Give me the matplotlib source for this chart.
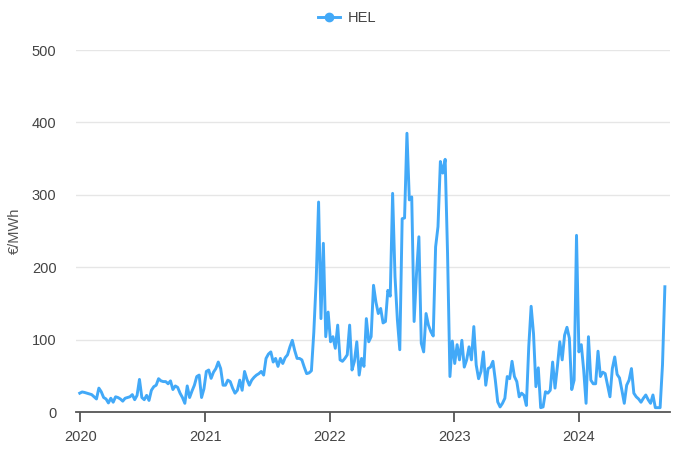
import matplotlib.pyplot as plt
import matplotlib.dates as mdates
import pandas as pd

plt.rcParams['font.family'] = ['Liberation Sans', 'DejaVu Sans']

# weekly prices (week starting 2019-12-30)
hel_2020 = [26, 27.7, 27, 26, 25, 24, 21, 18, 33, 28, 20, 18, 12.5, 19, 13.5,
            21, 20, 18, 15, 19, 20, 21, 24, 17, 23, 45, 20, 17, 23, 16, 30, 35,
            37, 46, 43, 42, 42, 39, 43, 31, 36, 34, 26, 20, 12, 36, 20, 29, 37,
            49, 51, 20, 32]
hel_2021 = [56, 58, 46.5, 55, 60, 69, 60, 37, 37, 44, 42, 33, 26, 30, 44, 30,
            56, 45, 37, 44, 48, 51, 53, 56, 51, 74, 80, 83, 69, 74, 63, 74, 67,
            75, 79, 90, 99, 85, 74, 74, 72, 62, 53, 54, 57, 110, 182, 290, 129,
            233, 104, 138]
hel_2022 = [97, 104, 88, 120, 72, 70, 74, 79, 120, 58, 70, 97, 51, 74, 63, 129,
            97, 104, 175, 152, 136, 143, 123, 125, 168, 160, 302, 187, 127, 86,
            267, 268, 385, 293, 297, 125, 191, 242, 95, 83, 136, 120, 111, 105,
            228, 256, 346, 330, 349, 219, 49, 98]
hel_2023 = [67, 93, 72, 99, 62, 72, 90, 72, 118, 65, 46, 56, 83, 37, 60, 62, 70,
            44, 14, 7, 12, 19, 49, 46, 70, 49, 42, 21, 26, 23, 9, 90, 146, 108,
            35, 61, 6, 7, 28, 26, 30, 69, 33, 63, 97, 72, 106, 117, 102, 31, 44,
            244]
hel_2024 = [83, 93, 58, 12, 104, 44, 39, 39, 84, 49, 55, 53, 37, 21, 60, 76, 52,
            47, 30, 12, 37, 44, 60, 26, 21, 18, 13.5, 19, 23.5, 17, 12, 23.5, 6,
            6, 6, 65, 173]

hel = hel_2020 + hel_2021 + hel_2022 + hel_2023 + hel_2024
dates = pd.date_range('2019-12-30', periods=len(hel), freq='7D')

fig = plt.figure(figsize=(6.74, 4.63), dpi=100)
ax = fig.add_axes([76 / 674, 51 / 463, 594 / 674, 362 / 463])

line_color = '#42A9F8'
ax.plot(dates, hel, color=line_color, lw=2.1, label='HEL')

ax.set_ylim(0, 500)
ax.set_yticks([0, 100, 200, 300, 400, 500])
ax.set_xlim(pd.Timestamp('2019-12-19'), pd.Timestamp('2024-09-24'))
ax.xaxis.set_major_locator(mdates.YearLocator())
ax.xaxis.set_major_formatter(mdates.DateFormatter('%Y'))

ax.grid(axis='y', color='#e6e6e6', lw=1)
ax.set_axisbelow(True)
for side in ['top', 'right', 'left']:
    ax.spines[side].set_visible(False)
ax.spines['bottom'].set_color('#555555')
ax.spines['bottom'].set_linewidth(1.3)

ax.tick_params(axis='y', length=0, pad=14, labelsize=10.5, labelcolor='#444444')
ax.tick_params(axis='x', length=7, width=1.3, color='#555555', pad=6,
               labelsize=10.5, labelcolor='#444444')
fig.text(15 / 674, 1 - 231 / 463, '€/MWh', rotation=90, ha='center', va='center',
         fontsize=10.5, color='#555555')

handles = [plt.Line2D([], [], color=line_color, lw=2.1, marker='o', ms=6)]
fig.legend(handles, ['HEL'], loc='center', bbox_to_anchor=(347 / 674, 1 - 18 / 463),
           frameon=False, fontsize=10.5, handlelength=1.5, handletextpad=0.5,
           labelcolor='#444444')

plt.savefig('out.png', dpi=100)
